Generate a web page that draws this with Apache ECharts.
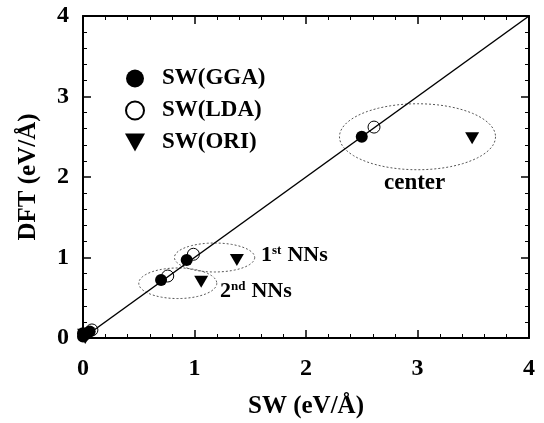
<!DOCTYPE html>
<html><head><meta charset="utf-8">
<script src="https://cdn.jsdelivr.net/npm/echarts@6/dist/echarts.min.js"></script>
<style>html,body{margin:0;padding:0;background:#fff}#c{width:544px;height:423px}</style>
</head><body><div id="c"></div>
<script>
// Data
var ggaPoints = [[0.0,0.02],[0.03,0.05],[0.06,0.08],[0.0,0.06],[0.70,0.72],[0.93,0.97],[2.50,2.50]];
var ldaPoints = [[0.08,0.10],[0.76,0.77],[0.99,1.04],[2.61,2.62]];
var oriPoints = [[0.02,0.0],[0.01,0.04],[1.06,0.70],[1.38,0.97],[3.49,2.48]];
var diagLine = [[0,0],[4,4]];
// ellipses: [cx, cy, rx, ry] in data units
var groupEllipses = [[3.0,2.5,0.70,0.41],[1.18,1.0,0.36,0.18],[0.85,0.68,0.35,0.19]];
var xTicks = [0,1,2,3,4];
var yTicks = [0,1,2,3,4];

var font = '"Liberation Serif", "Times New Roman", serif';
var chart = echarts.init(document.getElementById('c'));

function axisCommon(showLabel, margin){
  return {
    min: 0, max: 4, interval: 1,
    axisLine: {show: true, onZero: false, lineStyle: {color: '#000', width: 2}},
    axisTick: {show: true, inside: true, length: 8, lineStyle: {color: '#000', width: 1.5}},
    minorTick: {show: true, splitNumber: 5, length: 4, lineStyle: {color: '#000', width: 1}},
    splitLine: {show: false},
    axisLabel: {show: showLabel, color: '#000', fontFamily: font, fontWeight: 'bold', fontSize: 24, margin: margin}
  };
}
var xa = Object.assign(axisCommon(true, 19), {
  type: 'value', position: 'bottom',
  name: 'SW (eV/\u00C5)', nameLocation: 'middle', nameGap: 56,
  nameTextStyle: {color: '#000', fontFamily: font, fontWeight: 'bold', fontSize: 25}
});
var xa2 = Object.assign(axisCommon(false, 8), {type: 'value', position: 'top'});
var ya = Object.assign(axisCommon(true, 14), {
  type: 'value', position: 'left',
  name: 'DFT (eV/\u00C5)', nameLocation: 'middle', nameGap: 42,
  nameTextStyle: {color: '#000', fontFamily: font, fontWeight: 'bold', fontSize: 25}
});
var ya2 = Object.assign(axisCommon(false, 8), {type: 'value', position: 'right'});

function ellipseRender(params, api){
  var c = api.coord([api.value(0), api.value(1)]);
  var s = api.size([api.value(2), api.value(3)]);
  var pts = [];
  for (var i = 0; i < 72; i++){
    var t = i / 72 * Math.PI * 2;
    pts.push([c[0] + s[0]*Math.cos(t), c[1] + s[1]*Math.sin(t)]);
  }
  return {type: 'polygon', shape: {points: pts},
    style: {fill: 'none', stroke: '#555', lineWidth: 1, lineDash: [2, 2]}};
}

var downTri = 'path://M0,0L10,0L5,9Z';

chart.setOption({
  animation: false,
  grid: {left: 83, right: 15, top: 16, bottom: 85, outerBoundsMode: 'none', containLabel: false},
  xAxis: [xa, xa2],
  yAxis: [ya, ya2],
  legend: {
    orient: 'vertical', left: 120, top: 62, itemGap: 9, itemWidth: 20, itemHeight: 18,
    textStyle: {color: '#000', fontFamily: font, fontWeight: 'bold', fontSize: 23, padding: [0,0,0,12]},
    data: [
      {name: 'SW(GGA)', icon: 'circle'},
      {name: 'SW(LDA)', icon: 'circle'},
      {name: 'SW(ORI)', icon: downTri}
    ]
  },
  series: [
    {type: 'custom', renderItem: ellipseRender, data: groupEllipses, silent: true, z: 1},
    {name: 'SW(GGA)', type: 'scatter', data: ggaPoints, symbol: 'circle', symbolSize: 12,
     itemStyle: {color: '#000', opacity: 1}, z: 3},
    {name: 'SW(LDA)', type: 'scatter', data: ldaPoints, symbol: 'circle', symbolSize: 12,
     itemStyle: {color: 'rgba(255,255,255,0)', borderColor: '#000', borderWidth: 1, opacity: 1}, z: 3},
    {name: 'SW(ORI)', type: 'scatter', data: oriPoints, symbol: downTri, symbolSize: [14, 12],
     itemStyle: {color: '#000', opacity: 1}, z: 3},
    {type: 'line', data: diagLine, symbol: 'none', lineStyle: {color: '#000', width: 1.5}, z: 4, silent: true}
  ],
  graphic: [
    {type: 'text', left: 384, top: 172, style: {text: 'center', fill: '#000', font: 'bold 23px ' + font}},
    {type: 'text', left: 261, top: 244, style: {
      rich: {b: {fill: '#000', font: 'bold 22px ' + font}, s: {fill: '#000', font: 'bold 13px ' + font, verticalAlign: 'top', padding: [0,6,9,0]}},
      text: '{b|1}{s|st}{b|NNs}'}},
    {type: 'text', left: 220, top: 280, style: {
      rich: {b: {fill: '#000', font: 'bold 22px ' + font}, s: {fill: '#000', font: 'bold 13px ' + font, verticalAlign: 'top', padding: [0,6,9,0]}},
      text: '{b|2}{s|nd}{b|NNs}'}}
  ]
});
</script></body></html>
